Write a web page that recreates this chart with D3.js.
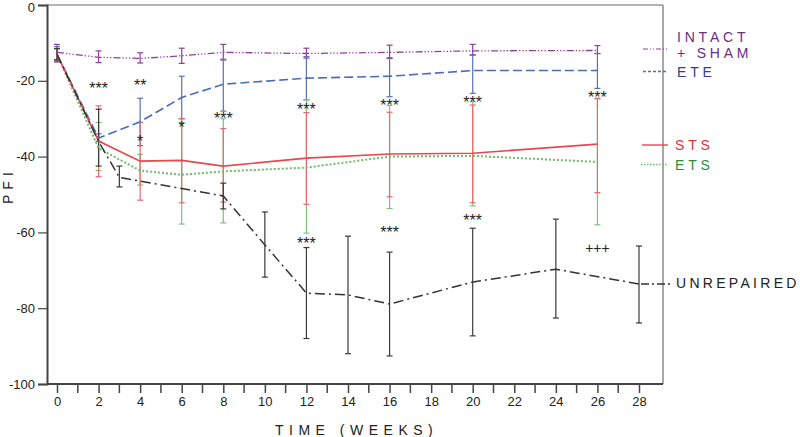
<!DOCTYPE html>
<html>
<head>
<meta charset="utf-8">
<script src="https://cdn.jsdelivr.net/npm/d3@7/dist/d3.min.js"></script>
<style>
  html, body { margin: 0; padding: 0; background: #fff; }
  svg { display: block; font-family: "Liberation Sans", Arial, sans-serif; }
</style>
</head>
<body>
<svg id="chart" width="800" height="437"></svg>
<script>
// ---------- DATA ----------
const weeks = [0, 2, 4, 6, 8, 12, 16, 20, 26];

const intactMean = [-12.5, -13.8, -14.1, -13.4, -12.5, -12.8, -12.5, -12.1, -12.0];
const intactHi   = [-10.4, -12.1, -12.6, -11.4, -10.4, -11.4, -10.6, -10.4, -10.7];
const intactLo   = [-15.0, -15.2, -15.3, -15.4, -14.5, -14.0, -14.1, -13.2, -12.8];

const eteMean = [-13.0, -35.1, -30.8, -24.4, -20.9, -19.3, -18.8, -17.3, -17.3];
const eteHi   = [-11.0, -34.0, -24.6, -18.8, -14.3, -13.6, -13.9, -13.2, -12.8];
const eteLo   = [-15.0, -36.0, -37.1, -30.0, -28.0, -25.0, -24.2, -23.3, -22.0];

const stsMean = [-13.0, -35.9, -41.2, -41.0, -42.5, -40.4, -39.3, -39.1, -36.7];
const stsHi   = [-11.5, -26.6, -31.0, -30.0, -32.6, -28.4, -28.3, -26.4, -24.6];
const stsLo   = [-14.5, -45.3, -51.5, -52.2, -52.0, -52.6, -50.6, -52.2, -49.5];

const etsMean = [-13.0, -37.8, -43.7, -44.8, -43.9, -42.9, -40.0, -39.8, -41.4];
const etsHi   = [-11.5, -31.0, -39.4, -31.0, -30.0, -25.0, -26.5, -25.5, -24.8];
const etsLo   = [-14.5, -43.7, -47.5, -57.8, -57.5, -60.2, -53.7, -53.0, -58.0];

const unrepWeeks = [0, 2, 3, 8, 10, 12, 14, 16, 20, 24, 28];
const unrepMean  = [-13.0, -36.0, -45.5, -50.4, -63.3, -76.0, -76.5, -78.9, -73.1, -69.7, -73.6];
const unrepHi    = [-11.5, -27.5, -42.5, -47.0, -54.6, -64.0, -61.0, -65.2, -58.9, -56.5, -63.6];
const unrepLo    = [-14.5, -42.5, -48.0, -53.8, -71.8, -88.0, -92.0, -92.6, -87.3, -82.6, -83.9];

const yTicks = [0, -20, -40, -60, -80, -100];
const xLabels = [0, 2, 4, 6, 8, 10, 12, 14, 16, 18, 20, 22, 24, 26, 28];
const xMinorTicks = d3.range(0, 29, 1);

const annoText  = ["***", "**", "*", "*", "***", "***", "***", "***", "***", "***", "***", "***", "+++"];
const annoWeek  = [2, 4, 4, 6, 8, 12, 16, 20, 26, 12, 16, 20, 26];
const annoValue = [-21.1, -20.3, -35.1, -31.4, -29.0, -26.6, -25.6, -24.8, -23.5, -62.0, -59.1, -55.9, -64.1];

const legendNames = [["INTACT", "+ SHAM"], ["ETE"], ["ETS"], ["STS"], ["UNREPAIRED"]];

// ---------- LAYOUT ----------
const svg = d3.select("#chart");
const x = d3.scaleLinear().domain([0, 28]).range([57, 639]);
const y = d3.scaleLinear().domain([0, -100]).range([5, 384]);
const frameL = 47, frameR = 663, frameT = 5, frameB = 384;
const fmt = d => String(d);

// frame top / right (light gray)
svg.append("line").attr("x1", frameL).attr("x2", frameR).attr("y1", frameT).attr("y2", frameT)
  .attr("stroke", "#9a9a9a").attr("stroke-width", 1.5);
svg.append("line").attr("x1", frameR).attr("x2", frameR).attr("y1", frameT).attr("y2", frameB)
  .attr("stroke", "#8a8a8a").attr("stroke-width", 1.5);

// y axis
const yAxis = d3.axisLeft(y).tickValues(yTicks).tickSize(9).tickPadding(3).tickFormat(fmt);
const gy = svg.append("g").attr("transform", `translate(${frameL},0)`).call(yAxis);
gy.select(".domain").attr("stroke", "#444").attr("stroke-width", 2);
gy.selectAll(".tick line").attr("stroke", "#444").attr("stroke-width", 1.2);
gy.selectAll(".tick text").attr("font-size", 13).attr("fill", "#222")
  .attr("font-family", "Liberation Sans, Arial, sans-serif")
  .attr("dy", d => d === 0 ? "0.48em" : "0.32em");

// x axis
const xAxis = d3.axisBottom(x).tickValues(xLabels).tickSize(9).tickPadding(4).tickFormat(fmt);
const gx = svg.append("g").attr("transform", `translate(0,${frameB})`).call(xAxis);
gx.select(".domain").remove();
gx.selectAll(".tick line").attr("stroke", "#444").attr("stroke-width", 1.5);
gx.selectAll(".tick text").attr("font-size", 13).attr("fill", "#222")
  .attr("font-family", "Liberation Sans, Arial, sans-serif");
svg.append("g").selectAll("line").data(xMinorTicks.filter(d => d % 2 === 1)).join("line")
  .attr("x1", d => x(d)).attr("x2", d => x(d)).attr("y1", frameB).attr("y2", frameB + 9)
  .attr("stroke", "#444").attr("stroke-width", 1.5);
svg.append("line").attr("x1", frameL).attr("x2", frameR).attr("y1", frameB).attr("y2", frameB)
  .attr("stroke", "#444").attr("stroke-width", 2);

// axis titles
svg.append("text").attr("x", 275).attr("y", 435).attr("font-size", 14).attr("fill", "#222")
  .attr("letter-spacing", "5.5px").text("TIME (WEEKS)");
svg.append("text").attr("transform", "translate(13,204) rotate(-90)").attr("font-size", 14)
  .attr("fill", "#222").attr("letter-spacing", "5px").text("PFI");

// ---------- SERIES ----------
const series = [
  { w: weeks, m: intactMean, hi: intactHi, lo: intactLo, color: "#8e3f9c", width: 1.3, dash: "7,2,1.3,2,1.3,2,1.3,2", text: "#6b2d86", legDash: "5,2,1,2,1,2", legW: 1.2 },
  { w: weeks, m: eteMean, hi: eteHi, lo: eteLo, color: "#4a6cc0", width: 1.6, dash: "9,4", text: "#2f3f92", legDash: "3,2", legW: 1.6 },
  { w: weeks, m: etsMean, hi: etsHi, lo: etsLo, color: "#6dbb6d", width: 2, dash: "2,2", text: "#2d8a3e", legDash: "1.5,1.5", legW: 1.6 },
  { w: weeks, m: stsMean, hi: stsHi, lo: stsLo, color: "#e8474c", width: 1.6, dash: null, text: "#d9363e", legDash: null, legW: 1.4 },
  { w: unrepWeeks, m: unrepMean, hi: unrepHi, lo: unrepLo, color: "#333333", width: 1.5, dash: "10,4,2,4", text: "#222", legDash: "8,3,2,3", legW: 1.3 }
];

// error bars first
const errColors = ["#8e3f9c", "#5a6fb8", "#7cc07c", "#e86a6e", "#3a3a3a"];
series.forEach((s, si) => {
  const g = svg.append("g");
  const idx = d3.range(s.w.length);
  g.selectAll("line.v").data(idx).join("line")
    .attr("x1", i => x(s.w[i])).attr("x2", i => x(s.w[i]))
    .attr("y1", i => y(s.hi[i])).attr("y2", i => y(s.lo[i]))
    .attr("stroke", errColors[si]).attr("stroke-width", 1.2);
  ["hi", "lo"].forEach(k => {
    g.selectAll("line.c" + k).data(idx).join("line")
      .attr("x1", i => x(s.w[i]) - 3).attr("x2", i => x(s.w[i]) + 3)
      .attr("y1", i => y(s[k][i])).attr("y2", i => y(s[k][i]))
      .attr("stroke", errColors[si]).attr("stroke-width", 1.2);
  });
});

// lines
series.forEach(s => {
  const line = d3.line().x((d, i) => x(s.w[i])).y(d => y(d));
  const p = svg.append("path").datum(s.m).attr("d", line)
    .attr("fill", "none").attr("stroke", s.color).attr("stroke-width", s.width);
  if (s.dash) p.attr("stroke-dasharray", s.dash);
});

// ---------- ANNOTATIONS ----------
svg.append("g").selectAll("text").data(d3.range(annoText.length)).join("text")
  .attr("x", i => x(annoWeek[i])).attr("y", i => y(annoValue[i]) + (annoText[i] === "+++" ? 5 : 9))
  .attr("text-anchor", "middle").attr("font-size", i => annoText[i] === "+++" ? 14 : 16)
  .attr("fill", "#222").text(i => annoText[i]);

// ---------- LEGEND ----------
const legendY = [49, 71.5, 164.5, 145, 284];
const legendTextY = [[42.3, 58], [77], [170], [150], [288]];
const legendX1 = [643, 643, 641, 642, 641];
const legendTX = [677, 677, 675, 675, 676];
const legendLS = [3.8, 3.8, 3.8, 3.8, 3.3];
series.forEach((s, si) => {
  const l = svg.append("line").attr("x1", legendX1[si]).attr("x2", si === 4 ? 672 : 668)
    .attr("y1", legendY[si]).attr("y2", legendY[si])
    .attr("stroke", s.color).attr("stroke-width", s.legW);
  if (s.legDash) l.attr("stroke-dasharray", s.legDash);
  legendNames[si].forEach((n, j) => {
    svg.append("text").attr("x", legendTX[si]).attr("y", legendTextY[si][j])
      .attr("font-size", 14).attr("letter-spacing", legendLS[si] + "px").attr("fill", s.text).text(n);
  });
});
</script>
</body>
</html>
